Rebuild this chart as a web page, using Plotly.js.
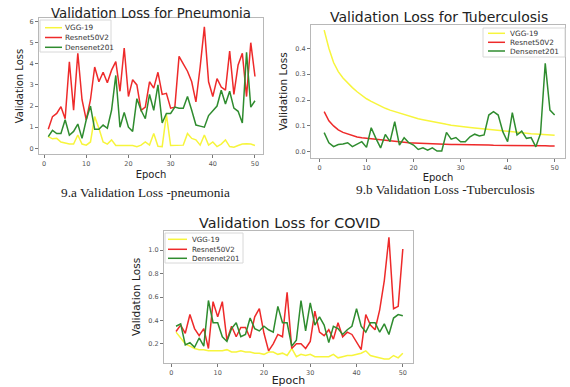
<!DOCTYPE html>
<html>
<head>
<meta charset="utf-8">
<script src="https://cdn.plot.ly/plotly-3.0.1.min.js"></script>
<style>html,body{margin:0;padding:0;background:#fff;}#chart{width:570px;height:387px;}</style>
</head>
<body>
<div id="chart"></div>
<script>
// ---------- data ----------
const epochs = Array.from({length: 50}, (_, i) => i + 1);
const seriesNames = ["VGG-19", "Resnet50V2", "Densenet201"];

// Pneumonia
const pneuVGG = [0.55,0.45,0.47,0.3,0.25,0.2,0.2,0.63,0.2,0.15,0.3,1.5,0.95,0.3,0.2,0.4,0.13,0.13,0.13,0.13,0.13,0.08,0.15,0.3,0.15,0.7,0.1,0.08,1.6,0.13,0.13,0.13,0.15,0.7,0.47,0.4,0.15,0.63,0.15,0.3,0.08,0.2,0.4,0.08,0.05,0.13,0.2,0.22,0.2,0.13];
const pneuResnet = [0.9,1.5,1.65,1.97,1.4,4.1,1.8,4.5,2.3,1.35,2.3,3.85,3.15,3.6,3.1,3.7,4.1,2.7,4.75,2.45,3.25,3.0,1.8,1.95,3.15,2.85,3.6,2.55,2.6,1.9,1.95,4.35,4.0,3.65,3.15,2.2,3.85,5.75,3.15,2.45,3.3,2.9,2.75,4.6,2.55,3.95,4.5,2.45,5.0,3.4];
const pneuDense = [0.55,0.85,0.7,0.7,1.35,0.62,0.8,1.15,0.47,1.35,2.0,0.9,0.9,1.1,0.95,1.8,3.45,1.0,1.7,1.0,0.8,2.35,1.8,1.4,2.55,1.8,3.0,1.2,1.65,1.65,1.95,1.9,1.9,2.45,1.8,1.1,1.05,1.0,1.55,1.8,2.0,2.75,2.1,2.7,1.9,1.75,1.2,4.55,1.95,2.25];

// Tuberculosis
const tbVGG = [0.47,0.40,0.345,0.31,0.285,0.265,0.248,0.232,0.218,0.205,0.195,0.185,0.176,0.168,0.161,0.155,0.149,0.143,0.138,0.133,0.128,0.124,0.12,0.116,0.112,0.109,0.106,0.103,0.1,0.098,0.096,0.094,0.092,0.09,0.088,0.086,0.084,0.082,0.08,0.079,0.078,0.076,0.074,0.072,0.07,0.069,0.068,0.066,0.065,0.064];
const tbResnet = [0.155,0.12,0.1,0.085,0.075,0.068,0.062,0.057,0.054,0.052,0.049,0.046,0.044,0.042,0.04,0.039,0.037,0.036,0.035,0.034,0.033,0.032,0.031,0.03,0.03,0.029,0.029,0.028,0.028,0.028,0.027,0.027,0.027,0.026,0.026,0.026,0.025,0.025,0.025,0.025,0.025,0.024,0.024,0.024,0.023,0.023,0.023,0.023,0.022,0.022];
const tbDense = [0.074,0.035,0.02,0.028,0.03,0.035,0.02,0.03,0.039,0.017,0.093,0.052,0.015,0.067,0.039,0.116,0.026,0.054,0.035,0.026,0.009,0.015,0.006,0.015,0.003,0.003,0.075,0.049,0.055,0.039,0.039,0.058,0.068,0.061,0.065,0.142,0.155,0.142,0.077,0.039,0.151,0.065,0.08,0.052,0.055,0.019,0.071,0.342,0.161,0.142];

// COVID
const covVGG = [0.3,0.25,0.2,0.18,0.16,0.15,0.15,0.14,0.14,0.14,0.14,0.15,0.13,0.13,0.14,0.13,0.13,0.12,0.12,0.11,0.13,0.13,0.11,0.12,0.1,0.16,0.09,0.11,0.1,0.11,0.09,0.09,0.09,0.09,0.11,0.08,0.09,0.1,0.1,0.11,0.12,0.14,0.1,0.09,0.08,0.07,0.07,0.1,0.08,0.12];
const covResnet = [0.305,0.36,0.29,0.45,0.33,0.27,0.33,0.16,0.56,0.43,0.56,0.23,0.35,0.26,0.34,0.34,0.25,0.43,0.5,0.29,0.14,0.2,0.28,0.26,0.64,0.16,0.2,0.2,0.16,0.22,0.48,0.3,0.27,0.32,0.24,0.38,0.26,0.3,0.28,0.21,0.15,0.45,0.36,0.32,0.49,0.74,1.11,0.5,0.52,1.01];
const covDense = [0.35,0.37,0.19,0.21,0.17,0.25,0.18,0.57,0.38,0.38,0.26,0.22,0.33,0.38,0.26,0.28,0.42,0.33,0.31,0.35,0.32,0.3,0.52,0.38,0.38,0.18,0.23,0.57,0.31,0.55,0.36,0.43,0.36,0.21,0.35,0.33,0.28,0.32,0.35,0.5,0.35,0.3,0.38,0.38,0.3,0.37,0.28,0.42,0.45,0.44];

const pneuTicksY = [0,1,2,3,4,5,6];
const tbTicksY = [0.0,0.1,0.2,0.3,0.4];
const covTicksY = [0.2,0.4,0.6,0.8,1.0];
const xTicks = [0,10,20,30,40,50];

// ---------- styling ----------
const colors = ["#f7f53c", "#ee2a2a", "#2f8c2f"];
const W = 570, H = 387;
const px = v => v / W;
const py = v => 1 - v / H;

function mk(y, i, xa, ya) {
  return {x: epochs, y: y, type: "scatter", mode: "lines", name: seriesNames[i],
    xaxis: xa, yaxis: ya, showlegend: false,
    line: {color: colors[i], width: 1.5}};
}
const traces = [
  mk(pneuVGG,0,"x","y"), mk(pneuResnet,1,"x","y"), mk(pneuDense,2,"x","y"),
  mk(tbVGG,0,"x2","y2"), mk(tbResnet,1,"x2","y2"), mk(tbDense,2,"x2","y2"),
  mk(covVGG,0,"x3","y3"), mk(covResnet,1,"x3","y3"), mk(covDense,2,"x3","y3")
];

const tickFont = {family: "DejaVu Sans", size: 6.5, color: "#555"};
function ax(domain, range, tickvals, title, standoff, tsize, fmt) {
  return {domain: domain, range: range, tickvals: tickvals,
    ticktext: fmt ? tickvals.map(fmt) : undefined,
    showgrid: false, zeroline: false, showline: true, mirror: true,
    linecolor: "#b8b8b8", linewidth: 1, ticks: "outside", ticklen: 3, tickcolor: "#777",
    tickfont: tickFont, automargin: false,
    title: {text: title, font: {family: "DejaVu Sans", size: tsize, color: "#222"}, standoff: standoff}};
}

// matplotlib-style compact legends (box, short handle, label) in paper pixels
const shapes = [];
const annotations = [];
function legendBox(x0, y0, x1, y1, rows, lineX0, lineX1, textX, fsize) {
  shapes.push({type: "rect", xref: "paper", yref: "paper", x0: px(x0), x1: px(x1), y0: py(y1), y1: py(y0),
    fillcolor: "rgba(255,255,255,0.9)", line: {color: "#d8d8d8", width: 1}, layer: "above"});
  rows.forEach((ry, i) => {
    shapes.push({type: "line", xref: "paper", yref: "paper", x0: px(lineX0), x1: px(lineX1), y0: py(ry), y1: py(ry),
      line: {color: colors[i], width: 1.5}, layer: "above"});
    annotations.push({text: seriesNames[i], xref: "paper", yref: "paper", x: px(textX), y: py(ry),
      xanchor: "left", yanchor: "middle", showarrow: false,
      font: {family: "DejaVu Sans", size: fsize, color: "#333"}});
  });
}
legendBox(40, 20, 111, 52, [27.7, 37.5, 47.3], 45, 62, 63, 7.3);
legendBox(483, 28, 565, 57, [33.3, 42.3, 51], 488, 505, 508, 7.3);
legendBox(165, 233, 243, 263, [239.3, 249.3, 258.3], 168, 187, 190, 7.1);

const textNotes = [
  ["Validation Loss for Pneumonia", 151, 13, "DejaVu Sans", 13.3],
  ["Validation Loss for Tuberculosis", 439, 17, "DejaVu Sans", 14],
  ["Validation Loss for COVID", 289, 223, "DejaVu Sans", 14.3],
  ["9.a Validation Loss -pneumonia", 145, 192, "Liberation Serif", 13.3],
  ["9.b Validation Loss -Tuberculosis", 445, 189, "Liberation Serif", 13.3]
];
textNotes.forEach(([t, x, y, fam, sz]) => annotations.push({text: t, x: px(x), y: py(y), xref: "paper", yref: "paper",
  showarrow: false, xanchor: "center", yanchor: "middle", font: {family: fam, size: sz, color: "#222"}}));

const layout = {
  width: W, height: H, margin: {l: 0, r: 0, t: 0, b: 0},
  paper_bgcolor: "#fff", plot_bgcolor: "#fff", showlegend: false,
  xaxis: ax([px(39), px(263)], [-1.2, 51.9], xTicks, "Epoch", 4, 10),
  yaxis: Object.assign(ax([py(154), py(18)], [-0.27, 6.17], pneuTicksY, "Validation Loss", 4, 10), {anchor: "x"}),
  xaxis2: Object.assign(ax([px(311), px(565)], [-1.8, 52.2], xTicks, "Epoch", 3, 10), {anchor: "y2"}),
  yaxis2: Object.assign(ax([py(158), py(25)], [-0.024, 0.49], tbTicksY, "Validation Loss", 5, 10.5, v => v.toFixed(1)), {anchor: "x2"}),
  xaxis3: Object.assign(ax([px(164), px(413)], [-1.6, 52.2], xTicks, "Epoch", 3, 11), {anchor: "y3"}),
  yaxis3: Object.assign(ax([py(363), py(231)], [0.036, 1.164], covTicksY, "Validation Loss", 5, 10.5, v => v.toFixed(1)), {anchor: "x3"}),
  shapes: shapes,
  annotations: annotations
};

Plotly.newPlot("chart", traces, layout, {displayModeBar: false, staticPlot: true});
</script>
</body>
</html>
